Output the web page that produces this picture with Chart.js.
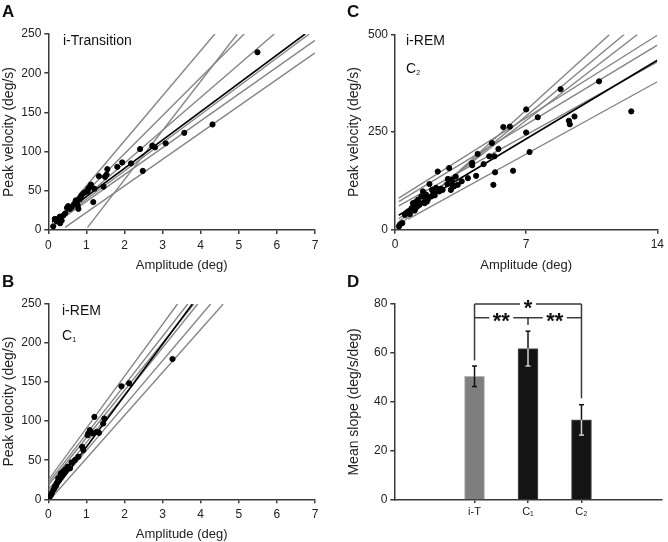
<!DOCTYPE html>
<html>
<head>
<meta charset="utf-8">
<script src="https://cdn.jsdelivr.net/npm/chart.js@4.4.1/dist/chart.umd.min.js"></script>
<style>
  body { margin: 0; background: #fff; }
  #wrap { position: relative; width: 668px; height: 542px; font-family: 'Liberation Sans', Arial, sans-serif; color: #111; }
  canvas { position: absolute; left: 0; top: 0; }
  .lbl { position: absolute; line-height: 1; white-space: nowrap; }
  .pan { font-weight: bold; font-size: 17px; }
  .note { font-size: 14px; }
  .note sub { font-size: 7px; vertical-align: -2px; }
</style>
</head>
<body>
<div id="wrap">
  <canvas id="chartA" width="668" height="542"></canvas>
  <canvas id="chartB" width="668" height="542"></canvas>
  <canvas id="chartC" width="668" height="542"></canvas>
  <canvas id="chartD" width="668" height="542"></canvas>

  <div class="lbl pan" style="left:2px;top:3px">A</div>
  <div class="lbl pan" style="left:2px;top:273px">B</div>
  <div class="lbl pan" style="left:347px;top:3px">C</div>
  <div class="lbl pan" style="left:347px;top:273px">D</div>

  <div class="lbl note" style="left:63px;top:33px">i-Transition</div>
  <div class="lbl note" style="left:62px;top:303px">i-REM</div>
  <div class="lbl note" style="left:62px;top:328px">C<sub>1</sub></div>
  <div class="lbl note" style="left:406px;top:33px">i-REM</div>
  <div class="lbl note" style="left:406px;top:61px">C<sub>2</sub></div>
</div>

<script>
// --- panel A : i-Transition (amplitude deg, peak velocity deg/s)
const ampA = [0.13, 0.17, 0.22, 0.26, 0.30, 0.31, 0.35, 0.39, 0.44, 0.49, 0.52, 0.57, 0.61, 0.68, 0.72,
  0.75, 0.77, 0.79, 0.82, 0.84, 0.87, 0.92, 0.98, 1.03, 1.05, 1.09, 1.12, 1.18, 1.21, 1.33,
  1.45, 1.49, 1.53, 1.55, 1.81, 1.94, 2.17, 2.41, 2.48, 2.73, 2.80, 3.08, 3.57, 4.31, 5.49];
const velA = [4.7, 14.1, 11, 14.1, 17, 8.6, 12.0, 18.4, 21, 28.3, 30.4, 27.0, 29, 33, 37.7,
  36.4, 31.3, 27.0, 39.0, 41, 44.1, 47, 48.4, 49.7, 52.7, 54.9, 57.9, 35.6, 52.7, 68.6,
  55.3, 67.7, 70.7, 77.6, 80.6, 86.2, 84.9, 103.3, 75.4, 107.6, 105.4, 110.6, 123.9, 134.6, 226.7];
// fitted lines, end points
const fitsA = [
  [[0.30, 16], [4.37, 250]],
  [[1.03, 3.4], [4.96, 250]],
  [[0.25, 12], [5.14, 250]],
  [[0.20, 10], [5.93, 250]],
  [[0.30, 14], [6.85, 250]],
  [[0.20, 9], [7, 242]],
  [[0.44, 3.4], [7, 226]]
];
const meanFitA = [[0.10, 10], [6.74, 250]];

// --- panel B : i-REM C1
const ampB = [0.04, 0.07, 0.09, 0.13, 0.16, 0.17, 0.22, 0.26, 0.28, 0.31, 0.33, 0.35, 0.37, 0.39, 0.44,
  0.46, 0.51, 0.57, 0.61, 0.70, 0.79, 0.89, 0.92, 1.03, 1.05, 1.09, 1.18, 1.21, 1.27, 1.33,
  1.44, 1.47, 1.92, 2.12, 3.26, 0.20, 0.24, 0.30, 0.41];
const velB = [3.4, 5.5, 7.7, 11.9, 14, 16.2, 20.4, 26.8, 24.7, 28.9, 33.2, 31, 31, 35.3, 37.4,
  38.7, 41.7, 39.6, 47.2, 50.2, 54.5, 67.2, 63, 82.1, 84.3, 88.5, 84.3, 105.5, 86.4, 85.1,
  97, 103.4, 144.7, 148.5, 179.6, 17, 22, 27, 36];
const fitsB = [
  [[0, 24.5], [3.39, 250]],
  [[0, 21], [3.66, 250]],
  [[0, 18], [3.82, 250]],
  [[0, 12], [3.92, 250]],
  [[0, 5], [4.26, 250]],
  [[0.05, 0], [4.59, 250]]
];
const meanFitB = [[0, 1], [3.78, 250]];

// --- panel C : i-REM C2
const ampC = [0.21, 0.26, 0.39, 0.53, 0.61, 0.70, 0.79, 0.88, 0.96, 1.05, 1.14, 1.23, 1.31, 1.40, 1.49,
  1.58, 1.66, 1.75, 1.84, 1.93, 1.98, 2.05, 2.19, 2.28, 2.36, 2.54, 2.80, 2.82, 2.89, 2.98,
  3.03, 3.06, 3.15, 3.24, 3.35, 3.56, 3.89, 4.12, 4.12, 4.33, 4.41, 4.73, 5.03, 5.17, 5.25,
  5.31, 5.34, 5.52, 5.78, 6.13, 6.30, 7.00, 7.00, 7.18, 7.62, 8.84, 9.28, 9.33, 9.58, 10.89,
  12.61, 0.98, 1.20, 1.62, 1.70, 2.12, 2.45, 1.10];
const velC = [8.5, 13, 17, 38, 43, 47, 40, 55, 68, 49, 72.5, 77, 64, 85, 98,
  68, 90, 77, 117, 85, 102, 94, 107, 149, 98, 102, 117, 130, 158, 102,
  128, 115, 111, 136, 115, 124, 132, 171, 165, 138, 194, 168, 188, 222, 115,
  188, 147, 207, 263, 264, 151, 308, 249, 199, 288, 360, 279, 270, 290, 380,
  303, 58, 60, 80, 72, 88, 105, 55];
const fitsC = [
  [[0.2, 10], [11.45, 500]],
  [[0.2, 20], [12.23, 500]],
  [[0.2, 28], [12.94, 500]],
  [[0.2, 81], [14, 498]],
  [[0.2, 72], [14, 473]],
  [[0.2, 61], [14, 430]],
  [[0.7, 27], [14, 379]]
];
const meanFitC = [[0.2, 37], [14, 434]];

// --- panel D : mean slope
const slopeGroups = ['', 'i-T', 'C₁', 'C₂', ''];
const slopeMean = [null, 50.5, 61.8, 32.7, null];
const slopeErr = [null, 4.2, 7.1, 6.2, null];

const FONT = "'Liberation Sans', Arial, sans-serif";
const AXIS = '#3a3a3a';
const TXT = '#222';

function pts(xs, ys) {
  return xs.map((v, i) => ({ x: v, y: ys[i] }));
}

function lineSet(seg, color, order) {
  return {
    data: seg.map(p => ({ x: p[0], y: p[1] })),
    showLine: true,
    borderColor: color,
    borderWidth: color === '#000' ? 1.6 : 1.4,
    pointRadius: 0,
    order: order
  };
}

function axes(b, xMax, xStep, yMax, yStep, xTitle, yTitle) {
  return {
    x: {
      type: 'linear', min: 0, max: xMax,
      ticks: { stepSize: xStep, color: TXT, font: { family: FONT, size: 12 }, padding: 4, maxRotation: 0 },
      grid: { drawOnChartArea: false, tickLength: 4, color: AXIS, lineWidth: 1.5 },
      border: { color: AXIS, width: 1.5 },
      title: { display: true, text: xTitle, color: TXT, font: { family: FONT, size: 13 }, padding: 0 },
      afterFit: s => { s.height = b.xBottom - b.bottom; }
    },
    y: {
      type: 'linear', min: 0, max: yMax,
      ticks: { stepSize: yStep, color: TXT, font: { family: FONT, size: 12 }, padding: 3 },
      grid: { drawOnChartArea: false, tickLength: 4, color: AXIS, lineWidth: 1.5 },
      border: { color: AXIS, width: 1.5 },
      title: { display: true, text: yTitle, color: TXT, font: { family: FONT, size: 14 }, padding: 0 },
      afterFit: s => { s.width = b.left - b.yLeft; }
    }
  };
}

function pad(b) {
  return { left: b.yLeft, top: b.top, right: 668 - b.right, bottom: 542 - b.xBottom };
}

function scatterPanel(id, b, xs, ys, fits, meanFit, xMax, xStep, yMax, yStep) {
  const datasets = [{
    data: pts(xs, ys),
    backgroundColor: '#000',
    borderColor: '#000',
    pointRadius: 2.6,
    order: 0
  }];
  datasets.push(lineSet(meanFit, '#000', 1));
  fits.forEach(f => datasets.push(lineSet(f, '#858585', 2)));

  new Chart(document.getElementById(id), {
    type: 'scatter',
    data: { datasets: datasets },
    options: {
      responsive: false,
      animation: false,
      layout: { padding: pad(b) },
      plugins: { legend: { display: false }, tooltip: { enabled: false } },
      scales: axes(b, xMax, xStep, yMax, yStep, 'Amplitude (deg)', 'Peak velocity (deg/s)')
    }
  });
}

scatterPanel('chartA', { yLeft: 0.5, left: 48.3, right: 315, top: 34, bottom: 230, xBottom: 273.3 },
  ampA, velA, fitsA, meanFitA, 7, 1, 250, 50);
scatterPanel('chartB', { yLeft: 0.5, left: 48.3, right: 315, top: 304, bottom: 499.3, xBottom: 542 },
  ampB, velB, fitsB, meanFitB, 7, 1, 250, 50);
scatterPanel('chartC', { yLeft: 345.6, left: 395, right: 661, top: 34.5, bottom: 229.7, xBottom: 273 },
  ampC, velC, fitsC, meanFitC, 14, 7, 500, 250);

// error bars + significance brackets for D
const errInner = [null, '#111', '#d0d0d0', '#d0d0d0', null];
const barDecor = {
  id: 'barDecor',
  afterDatasetsDraw(chart) {
    const { ctx, scales: { x, y } } = chart;
    const seg = (x1, y1, x2, y2) => { ctx.beginPath(); ctx.moveTo(x1, y1); ctx.lineTo(x2, y2); ctx.stroke(); };
    ctx.save();
    ctx.lineWidth = 1.5;
    slopeMean.forEach((m, i) => {
      if (m == null) return;
      const cx = x.getPixelForValue(i);
      const yHi = y.getPixelForValue(m + slopeErr[i]);
      const yMid = y.getPixelForValue(m);
      const yLo = y.getPixelForValue(m - slopeErr[i]);
      ctx.strokeStyle = '#111';
      seg(cx, yMid, cx, yHi);
      seg(cx - 2.5, yHi, cx + 2.5, yHi);
      ctx.strokeStyle = errInner[i];
      seg(cx, yLo, cx, yMid);
      seg(cx - 2.5, yLo, cx + 2.5, yLo);
    });

    const xT = x.getPixelForValue(1), x1 = x.getPixelForValue(2), x2 = x.getPixelForValue(3);
    const yOuter = y.getPixelForValue(80), yInner = y.getPixelForValue(74.4);
    ctx.strokeStyle = AXIS;
    ctx.lineWidth = 1.5;
    // legs
    seg(xT, yOuter, xT, y.getPixelForValue(57));
    seg(x2, yOuter, x2, y.getPixelForValue(41.5));
    // outer bracket with gap for *
    seg(xT, yOuter, x1 - 8, yOuter);
    seg(x1 + 8, yOuter, x2, yOuter);
    // inner bracket with gaps for **
    const mL = (xT + x1) / 2, mR = (x1 + x2) / 2;
    seg(xT, yInner, mL - 12, yInner);
    seg(mL + 12, yInner, mR - 12, yInner);
    seg(mR + 12, yInner, x2, yInner);
    seg(x1, yInner, x1, y.getPixelForValue(71.4));

    ctx.fillStyle = '#111';
    ctx.font = 'bold 22px ' + FONT;
    ctx.textAlign = 'center';
    ctx.textBaseline = 'alphabetic';
    const star = (txt, cx, cy) => {
      const mt = ctx.measureText(txt);
      ctx.fillText(txt, cx, cy + (mt.actualBoundingBoxAscent - mt.actualBoundingBoxDescent) / 2);
    };
    star('*', x1, yOuter);
    star('**', mL, yInner);
    star('**', mR, yInner);
    ctx.restore();
  }
};

const bD = { yLeft: 345.3, left: 394.3, right: 661.7, top: 304, bottom: 500, xBottom: 522 };
new Chart(document.getElementById('chartD'), {
  type: 'bar',
  data: {
    labels: slopeGroups,
    datasets: [{
      data: slopeMean,
      backgroundColor: [null, '#7f7f7f', '#141414', '#141414', null],
      borderColor: [null, '#b4b4b4', '#555', '#555', null],
      borderWidth: 1,
      barThickness: 20
    }]
  },
  options: {
    responsive: false,
    animation: false,
    layout: { padding: pad(bD) },
    plugins: { legend: { display: false }, tooltip: { enabled: false } },
    scales: {
      x: {
        ticks: { color: TXT, font: { family: FONT, size: 11 }, padding: 2, maxRotation: 0, autoSkip: false },
        grid: {
          offset: false, drawOnChartArea: false, tickLength: 3, lineWidth: 1.5,
          color: c => (c.tick && c.tick.label) ? AXIS : 'rgba(0,0,0,0)'
        },
        border: { color: AXIS, width: 1.5 },
        afterFit: s => { s.height = bD.xBottom - bD.bottom; }
      },
      y: {
        min: 0, max: 80,
        ticks: { stepSize: 20, color: TXT, font: { family: FONT, size: 12 }, padding: 3 },
        grid: { drawOnChartArea: false, tickLength: 4, color: AXIS, lineWidth: 1.5 },
        border: { color: AXIS, width: 1.5 },
        title: { display: true, text: 'Mean slope (deg/s/deg)', color: TXT, font: { family: FONT, size: 14 }, padding: 0 },
        afterFit: s => { s.width = bD.left - bD.yLeft; }
      }
    }
  },
  plugins: [barDecor]
});
</script>
</body>
</html>
